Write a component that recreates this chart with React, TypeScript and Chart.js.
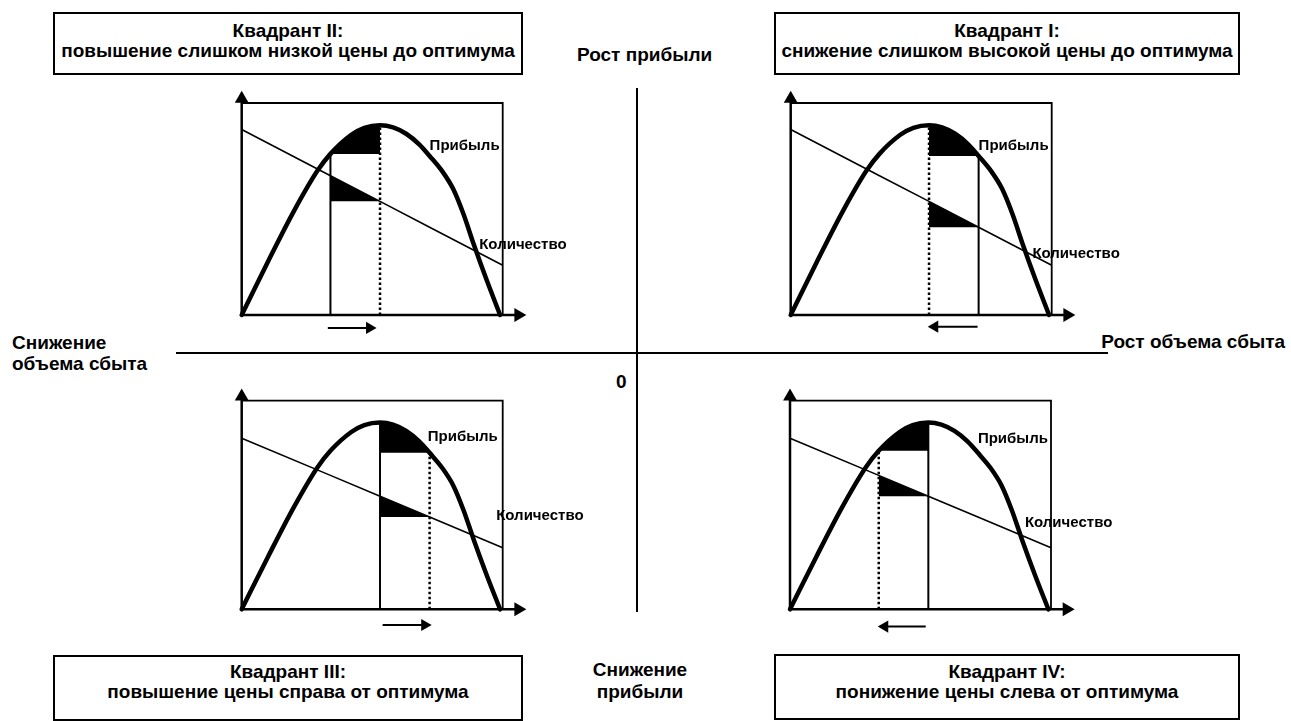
import React, { useEffect, useRef } from "react";
import { Chart, registerables } from "chart.js";

Chart.register(...registerables);

// ---- shared curves (x: 0 = vertical axis, 10 = right frame; y: 0 = horizontal axis, 10 = top frame)
const profitX = [0, 1, 2, 2.9, 3.4, 4.2, 4.7, 5.3, 5.8, 6.3, 6.8, 7.2, 7.7, 8.1, 8.5, 8.9, 9.4, 9.9];
const profitY = [0, 2.5, 4.9, 6.8, 7.6, 8.5, 8.83, 8.95, 8.85, 8.55, 8.05, 7.5, 6.75, 5.95, 4.75, 3.3, 1.6, 0];
const qtyX = [0, 3.4, 5.3, 7.2, 10];
const qtyUpper = [8.75, 6.57, 5.36, 4.14, 2.35];
const qtyLower = [8.2, 6.42, 5.42, 4.42, 2.95];
const frameX = [0, 10, 10];
const frameY = [10, 10, 0];
const axisTipX = 10.6;
const axisTipY = 10.2;

// ---- per quadrant (order: I, II, III, IV)
const quadrantTitles = ["Квадрант I:", "Квадрант II:", "Квадрант III:", "Квадрант IV:"];
const quadrantTexts = [
  "снижение слишком высокой цены до оптимума",
  "повышение слишком низкой цены до оптимума",
  "повышение цены справа от оптимума",
  "понижение цены слева от оптимума",
];
const solidAt = [7.2, 3.4, 5.3, 5.3];
const dottedAt = [5.3, 5.3, 7.2, 3.4];
const arrowFrom = [7.16, 3.3, 5.4, 5.2];
const arrowTo = [5.52, 4.9, 7.01, 3.63];
const arrowLevel = [-0.55, -0.61, -0.75, -0.83];
const profitLabel = "Прибыль";
const qtyLabel = "Количество";

// ---- layout (pixels / label anchors)
const FONT = '"Liberation Sans", Arial, Helvetica, sans-serif';
const X_UNIT = 26.1;
const panelLayout = [
  { ox: 790.7, oy: 315, yUnit: 21.2, profitPos: [7.2, 8.0], qtyPos: [9.26, 2.9] },
  { ox: 241.7, oy: 315, yUnit: 21.2, profitPos: [7.2, 8.0], qtyPos: [9.1, 3.3] },
  { ox: 241.7, oy: 609.3, yUnit: 20.86, profitPos: [7.13, 8.27], qtyPos: [9.75, 4.5] },
  { ox: 790, oy: 609.3, yUnit: 20.86, profitPos: [7.2, 8.16], qtyPos: [9.0, 4.12] },
];
const CW = 380;
const CH = 262;

const pts = (xs: number[], ys: number[]) => xs.map((x, i) => ({ x, y: ys[i] }));

const labelPlugin = {
  id: "curveLabels",
  afterDatasetsDraw(chart: any, _args: any, opts: any) {
    const { ctx } = chart;
    const sx = chart.scales.x;
    const sy = chart.scales.y;
    ctx.save();
    ctx.font = `bold 15px ${FONT}`;
    ctx.fillStyle = "#000";
    ctx.textAlign = "left";
    ctx.textBaseline = "middle";
    for (const it of opts.items || []) {
      ctx.fillText(it.text, sx.getPixelForValue(it.x), sy.getPixelForValue(it.y));
    }
    ctx.restore();
  },
};

function geometry(q: number) {
  const L = panelLayout[q];
  const left = Math.round(L.ox - 13);
  const top = Math.round(L.oy - 11 * L.yUnit);
  const xMin = (left - L.ox) / X_UNIT;
  const xMax = xMin + CW / X_UNIT;
  const yMax = (L.oy - top) / L.yUnit;
  const yMin = yMax - CH / L.yUnit;
  return { left, top, xMin, xMax, yMin, yMax };
}

function buildConfig(q: number): any {
  const L = panelLayout[q];
  const g = geometry(q);
  const qty = q < 2 ? qtyUpper : qtyLower;
  const fi = profitX.indexOf(solidAt[q]);
  const ti = profitX.indexOf(dottedAt[q]);
  const lo = Math.min(fi, ti);
  const hi = Math.max(fi, ti);
  const profitBase = Math.min(profitY[fi], profitY[ti]);
  const profitShade = pts(profitX.slice(lo, hi + 1), profitY.slice(lo, hi + 1));
  const qa = qtyX.indexOf(solidAt[q]);
  const qb = qtyX.indexOf(dottedAt[q]);
  const qlo = Math.min(qa, qb);
  const qhi = Math.max(qa, qb);
  const qtyShade = pts(qtyX.slice(qlo, qhi + 1), qty.slice(qlo, qhi + 1));
  const qtyBase = qty[qhi];
  const goingRight = arrowTo[q] > arrowFrom[q];

  const base = {
    borderColor: "#000",
    backgroundColor: "#000",
    pointRadius: 0,
    fill: false,
    tension: 0,
  };

  return {
    type: "line",
    data: {
      datasets: [
        {
          ...base,
          label: "profit",
          data: pts(profitX, profitY),
          borderWidth: 4.5,
          cubicInterpolationMode: "monotone",
          borderCapStyle: "round",
          order: 1,
        },
        {
          ...base,
          label: "x-axis",
          data: pts([0, axisTipX], [0, 0]),
          borderWidth: 2.5,
          pointRadius: [0, 8],
          pointStyle: "triangle",
          pointRotation: 90,
          pointBorderWidth: 0,
          order: 2,
        },
        {
          ...base,
          label: "y-axis",
          data: pts([0, 0], [0, axisTipY]),
          borderWidth: 2.5,
          pointRadius: [0, 8],
          pointStyle: "triangle",
          pointRotation: 0,
          pointBorderWidth: 0,
          order: 2,
        },
        {
          ...base,
          label: "shift",
          data: pts([arrowFrom[q], arrowTo[q]], [arrowLevel[q], arrowLevel[q]]),
          borderWidth: 2,
          pointRadius: [0, 7],
          pointStyle: "triangle",
          pointRotation: goingRight ? 90 : -90,
          pointBorderWidth: 0,
          order: 2,
        },
        {
          ...base,
          label: "quantity",
          data: pts(qtyX, qty),
          borderWidth: 1.6,
          order: 3,
        },
        {
          ...base,
          label: "solid",
          data: pts([solidAt[q], solidAt[q]], [0, profitY[fi]]),
          borderWidth: 2,
          order: 4,
        },
        {
          ...base,
          label: "dotted",
          data: pts([dottedAt[q], dottedAt[q]], [0, profitY[ti]]),
          borderWidth: 2.5,
          borderDash: [2.5, 2.5],
          order: 4,
        },
        {
          ...base,
          label: "profit-shade",
          data: profitShade,
          borderWidth: 0,
          cubicInterpolationMode: "monotone",
          fill: { value: profitBase },
          order: 5,
        },
        {
          ...base,
          label: "qty-shade",
          data: qtyShade,
          borderWidth: 0,
          fill: { value: qtyBase },
          order: 5,
        },
        {
          ...base,
          label: "frame",
          data: pts(frameX, frameY),
          borderWidth: 1.8,
          order: 6,
        },
      ],
    },
    options: {
      animation: false,
      responsive: false,
      maintainAspectRatio: false,
      devicePixelRatio: 1,
      events: [],
      layout: { padding: 0, autoPadding: false },
      scales: {
        x: { type: "linear", min: g.xMin, max: g.xMax, display: false },
        y: { type: "linear", min: g.yMin, max: g.yMax, display: false },
      },
      plugins: {
        legend: { display: false },
        tooltip: { enabled: false },
        curveLabels: {
          items: [
            { text: profitLabel, x: L.profitPos[0], y: L.profitPos[1] },
            { text: qtyLabel, x: L.qtyPos[0], y: L.qtyPos[1] },
          ],
        },
      },
    },
    plugins: [labelPlugin],
  };
}

function Panel({ q }: { q: number }) {
  const ref = useRef<HTMLCanvasElement | null>(null);
  const g = geometry(q);
  useEffect(() => {
    if (!ref.current) return;
    const chart = new Chart(ref.current, buildConfig(q));
    return () => chart.destroy();
  }, [q]);
  return (
    <canvas
      ref={ref}
      width={CW}
      height={CH}
      style={{ position: "absolute", left: g.left, top: g.top, width: CW, height: CH }}
    />
  );
}

const boxLayout = [
  { left: 774, top: 12, width: 466, height: 63, pad: 7 },
  { left: 53, top: 12, width: 470, height: 63, pad: 7 },
  { left: 53, top: 655, width: 470, height: 66, pad: 5 },
  { left: 774, top: 654, width: 466, height: 66, pad: 6 },
];

function TitleBox({ q }: { q: number }) {
  const b = boxLayout[q];
  return (
    <div
      style={{
        position: "absolute",
        left: b.left,
        top: b.top,
        width: b.width,
        height: b.height,
        border: "2px solid #000",
        boxSizing: "border-box",
        textAlign: "center",
        fontSize: 19,
        lineHeight: "20px",
        paddingTop: b.pad,
        whiteSpace: "nowrap",
      }}
    >
      <div>{quadrantTitles[q]}</div>
      <div>{quadrantTexts[q]}</div>
    </div>
  );
}

const txt = (extra: any) => ({ position: "absolute" as const, fontSize: 19, lineHeight: "21px", whiteSpace: "nowrap" as const, ...extra });

export default function App() {
  return (
    <div
      style={{
        position: "absolute",
        left: 0,
        top: 0,
        width: 1291,
        height: 721,
        overflow: "hidden",
        background: "#fff",
        color: "#000",
        fontFamily: FONT,
        fontWeight: "bold",
      }}
    >
      {/* central axes */}
      <div style={{ position: "absolute", left: 636, top: 88, width: 2, height: 524, background: "#000" }} />
      <div style={{ position: "absolute", left: 176, top: 352, width: 932, height: 2, background: "#000" }} />

      <div style={txt({ left: 577, top: 44 })}>Рост прибыли</div>
      <div style={txt({ left: 12, top: 332 })}>
        Снижение
        <br />
        объема сбыта
      </div>
      <div style={txt({ right: 6, top: 331 })}>Рост объема сбыта</div>
      <div style={txt({ left: 616, top: 371 })}>0</div>
      <div style={txt({ left: 560, top: 659, width: 160, textAlign: "center", lineHeight: "22px" })}>
        Снижение
        <br />
        прибыли
      </div>

      {[0, 1, 2, 3].map((q) => (
        <TitleBox key={"t" + q} q={q} />
      ))}
      {[0, 1, 2, 3].map((q) => (
        <Panel key={"p" + q} q={q} />
      ))}
    </div>
  );
}
